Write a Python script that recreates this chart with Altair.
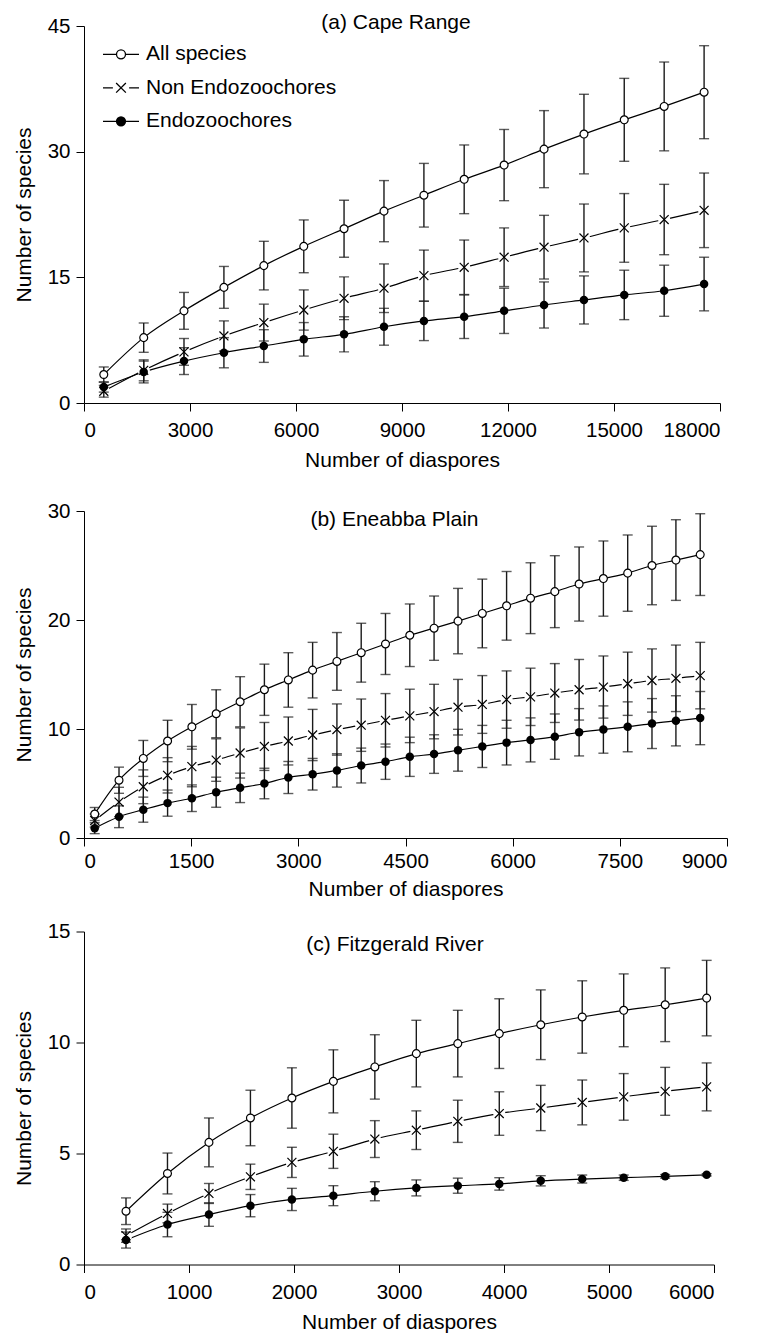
import altair as alt
import pandas as pd

FONT = "Liberation Sans"
SERIES = ["All species", "Non Endozoochores", "Endozoochores"]

# ---------------- (a) Cape Range ----------------
a_x = [560, 1690, 2830, 3960, 5090, 6220, 7360, 8490, 9620, 10760, 11890, 13020, 14150, 15290, 16420, 17550]
a_all = [3.4, 7.8, 11.0, 13.8, 16.4, 18.7, 20.8, 22.9, 24.8, 26.7, 28.4, 30.3, 32.1, 33.8, 35.4, 37.1]
a_all_err = [0.9, 1.75, 2.2, 2.5, 2.9, 3.15, 3.4, 3.65, 3.8, 4.1, 4.25, 4.6, 4.75, 4.95, 5.3, 5.55]
a_non = [1.4, 3.9, 6.1, 8.0, 9.6, 11.1, 12.5, 13.7, 15.2, 16.2, 17.4, 18.6, 19.7, 20.9, 21.9, 23.0]
a_non_err = [0.7, 1.25, 1.6, 1.8, 2.2, 2.4, 2.55, 2.9, 3.05, 3.25, 3.5, 3.8, 4.05, 4.1, 4.2, 4.45]
a_endo = [1.9, 3.7, 5.0, 6.0, 6.8, 7.6, 8.2, 9.1, 9.8, 10.3, 11.0, 11.7, 12.3, 12.9, 13.4, 14.2]
a_endo_err = [0.6, 1.3, 1.6, 1.8, 1.95, 2.0, 2.1, 2.2, 2.35, 2.6, 2.7, 2.75, 2.87, 2.95, 3.05, 3.2]

# ---------------- (b) Eneabba Plain ----------------
b_x = [150, 490, 830, 1170, 1510, 1850, 2185, 2525, 2860, 3200, 3540, 3880, 4220, 4560, 4900,
       5235, 5575, 5915, 6250, 6590, 6930, 7270, 7610, 7950, 8285, 8625]
b_all = [2.2, 5.3, 7.3, 8.9, 10.2, 11.4, 12.5, 13.6, 14.5, 15.4, 16.2, 17.0, 17.8, 18.6, 19.25,
         19.9, 20.6, 21.3, 22.0, 22.6, 23.3, 23.8, 24.3, 25.0, 25.5, 26.0]
b_all_err = [0.6, 1.2, 1.65, 1.9, 2.05, 2.2, 2.3, 2.35, 2.5, 2.55, 2.65, 2.7, 2.8, 2.87, 2.95,
             3.0, 3.15, 3.15, 3.25, 3.3, 3.4, 3.45, 3.5, 3.6, 3.7, 3.75]
b_non = [1.6, 3.3, 4.7, 5.75, 6.55, 7.15, 7.8, 8.4, 8.9, 9.45, 9.95, 10.35, 10.8, 11.2, 11.6,
         12.0, 12.25, 12.7, 12.95, 13.3, 13.6, 13.85, 14.15, 14.45, 14.65, 14.9]
b_non_err = [0.6, 1.35, 1.55, 1.62, 1.85, 1.95, 2.3, 2.2, 2.2, 2.35, 2.35, 2.4, 2.45, 2.45, 2.5,
             2.55, 2.65, 2.63, 2.63, 2.7, 2.78, 2.85, 2.9, 2.9, 3.05, 3.05]
b_endo = [0.9, 1.95, 2.6, 3.2, 3.65, 4.2, 4.6, 5.0, 5.55, 5.85, 6.2, 6.65, 7.0, 7.45, 7.7,
          8.05, 8.4, 8.75, 9.0, 9.3, 9.7, 9.95, 10.2, 10.5, 10.75, 11.0]
b_endo_err = [0.5, 1.0, 1.15, 1.2, 1.22, 1.38, 1.35, 1.4, 1.47, 1.45, 1.53, 1.6, 1.62, 1.8, 1.77,
              1.92, 1.93, 2.05, 2.02, 2.08, 2.17, 2.17, 2.29, 2.29, 2.3, 2.44]

# ---------------- (c) Fitzgerald River ----------------
c_x = [400, 795, 1190, 1585, 1980, 2375, 2770, 3165, 3560, 3955, 4350, 4745, 5140, 5535, 5930]
c_all = [2.4, 4.1, 5.5, 6.6, 7.5, 8.25, 8.9, 9.5, 9.95, 10.4, 10.8, 11.15, 11.45, 11.7, 12.0]
c_all_err = [0.6, 0.92, 1.1, 1.25, 1.36, 1.42, 1.45, 1.5, 1.5, 1.57, 1.57, 1.63, 1.64, 1.66, 1.7]
c_non = [1.3, 2.3, 3.2, 3.95, 4.6, 5.1, 5.65, 6.05, 6.45, 6.8, 7.05, 7.3, 7.55, 7.8, 8.0]
c_non_err = [0.3, 0.42, 0.45, 0.57, 0.68, 0.77, 0.83, 0.87, 0.95, 0.98, 1.02, 1.01, 1.05, 1.08, 1.08]
c_endo = [1.1, 1.8, 2.25, 2.65, 2.93, 3.1, 3.3, 3.45, 3.55, 3.63, 3.77, 3.85, 3.91, 3.97, 4.04]
c_endo_err = [0.36, 0.55, 0.53, 0.5, 0.5, 0.45, 0.43, 0.36, 0.34, 0.28, 0.23, 0.18, 0.12, 0.08, 0.05]


def make_df(x, s_all, e_all, s_non, e_non, s_endo, e_endo):
    rows = []
    for name, ys, es in zip(SERIES, [s_all, s_non, s_endo], [e_all, e_non, e_endo]):
        for xi, yi, ei in zip(x, ys, es):
            rows.append({"x": xi, "y": yi, "lo": yi - ei, "hi": yi + ei, "series": name})
    return pd.DataFrame(rows)


def ring(r):
    return f"M{r},0A{r},{r},0,1,1,{-r},0A{r},{r},0,1,1,{r},0Z"


X_PATH = "M-1,-1L1,1M-1,1L1,-1"
# legend glyphs: line segment + marker, in unit coordinates
LEG_ALL = "M-1,0L-0.25,0M0.25,0L1,0" + ring(0.25)
LEG_NON = "M-1,0L-0.45,0M0.45,0L1,0M-0.27,-0.27L0.27,0.27M-0.27,0.27L0.27,-0.27"
LEG_ENDO = "M-1,0L-0.25,0M0.25,0L1,0" + ring(0.25) + ring(0.18) + ring(0.11) + ring(0.04)
LEG_SIZE = 1296

LABEL_FS = 20.5
TITLE_FS = 21


def panel(df, xmax, xstep, ymax, ystep, w, h, title, t_dy, t_dx, xlab_pad, xtitle_pad, legend=False):
    xaxis = alt.Axis(values=list(range(0, xmax + 1, xstep)), format="d", title="Number of diaspores",
                     labelPadding=xlab_pad, titlePadding=xtitle_pad)
    yaxis = alt.Axis(values=list(range(0, ymax + 1, ystep)), format="d", title="Number of species",
                     labelPadding=6, titlePadding=13)
    xsc = alt.Scale(domain=[0, xmax], nice=False, zero=True)
    ysc = alt.Scale(domain=[0, ymax], nice=False, zero=True)

    def X(f):
        return alt.X(f"{f}:Q", scale=xsc, axis=xaxis)

    def Y(f):
        return alt.Y(f"{f}:Q", scale=ysc, axis=yaxis)

    base = alt.Chart(df)
    lines = base.mark_line(interpolate="monotone", color="black", strokeWidth=1.2).encode(
        x=X("x"), y=Y("y"), detail="series:N")
    halo = base.transform_filter(alt.datum.series == "Non Endozoochores").mark_point(
        shape="circle", filled=True, color="white", size=150, opacity=1).encode(x=X("x"), y=Y("y"))
    rules = base.mark_rule(color="#1a1a1a", strokeWidth=1.4).encode(x=X("x"), y=Y("lo"), y2="hi:Q")
    cap_lo = base.mark_tick(orient="horizontal", size=10, thickness=1.4, color="#1a1a1a").encode(
        x=X("x"), y=Y("lo"))
    cap_hi = base.mark_tick(orient="horizontal", size=10, thickness=1.4, color="#1a1a1a").encode(
        x=X("x"), y=Y("hi"))
    p_all = base.transform_filter(alt.datum.series == "All species").mark_point(
        shape="circle", filled=True, fill="white", stroke="black", strokeWidth=1.2, size=62,
        opacity=1).encode(x=X("x"), y=Y("y"))
    p_non = base.transform_filter(alt.datum.series == "Non Endozoochores").mark_point(
        shape=X_PATH, filled=False, color="black", strokeWidth=1.2, size=80, opacity=1).encode(
        x=X("x"), y=Y("y"))
    p_endo = base.transform_filter(alt.datum.series == "Endozoochores").mark_point(
        shape="circle", filled=True, color="black", size=72, opacity=1).encode(x=X("x"), y=Y("y"))

    layers = [lines, halo, rules, cap_lo, cap_hi, p_all, p_non, p_endo]
    if legend:
        leg = alt.Legend(title=None, orient="none", legendX=18, legendY=9.3, symbolSize=LEG_SIZE,
                         labelFont=FONT, labelFontSize=TITLE_FS, labelColor="black", labelOffset=6,
                         labelLimit=400, rowPadding=4.5, symbolStrokeWidth=1.3, padding=0,
                         symbolStrokeColor="black", symbolFillColor="transparent")
        # legend-only layer: no rows survive the filter, the legend comes from the explicit scale domain
        leg_layer = base.transform_filter(alt.datum.x < 0).mark_point(
            filled=False, color="black", strokeWidth=1.3, size=LEG_SIZE, opacity=1).encode(
            x=X("x"), y=Y("y"),
            shape=alt.Shape("series:N", scale=alt.Scale(domain=SERIES, range=[LEG_ALL, LEG_NON, LEG_ENDO]),
                            legend=leg),
        )
        layers.append(leg_layer)

    return alt.layer(*layers).properties(
        width=w, height=h,
        title=alt.TitleParams(title, anchor="middle", font=FONT, fontSize=TITLE_FS, fontWeight="normal",
                              color="black", offset=0, dy=t_dy, dx=t_dx),
    )


pa = panel(make_df(a_x, a_all, a_all_err, a_non, a_non_err, a_endo, a_endo_err),
           18000, 3000, 45, 15, 636, 377, "(a) Cape Range", 17, -6, 9, 9, legend=True)
pb = panel(make_df(b_x, b_all, b_all_err, b_non, b_non_err, b_endo, b_endo_err),
           9000, 1500, 30, 10, 643, 327, "(b) Eneabba Plain", 28.5, -11, 5, 7)
pc = panel(make_df(c_x, c_all, c_all_err, c_non, c_non_err, c_endo, c_endo_err),
           6000, 1000, 15, 5, 630, 333, "(c) Fitzgerald River", 33, -4, 10, 8)

top = alt.vconcat(pa, pb, spacing=30)
chart = alt.vconcat(top, pc, spacing=21.5).properties(
    padding={"left": 5, "top": 4, "right": 5, "bottom": 5},
).configure_view(stroke=None).configure_axis(
    grid=False, domainColor="black", domainWidth=1, tickColor="black", tickWidth=1, tickSize=8,
    labelFont=FONT, labelFontSize=LABEL_FS, labelColor="black", titleFont=FONT, titleFontSize=TITLE_FS,
    titleFontWeight="normal", titleColor="black",
)

chart.save("out.html", embed_options={"renderer": "svg", "actions": False})
